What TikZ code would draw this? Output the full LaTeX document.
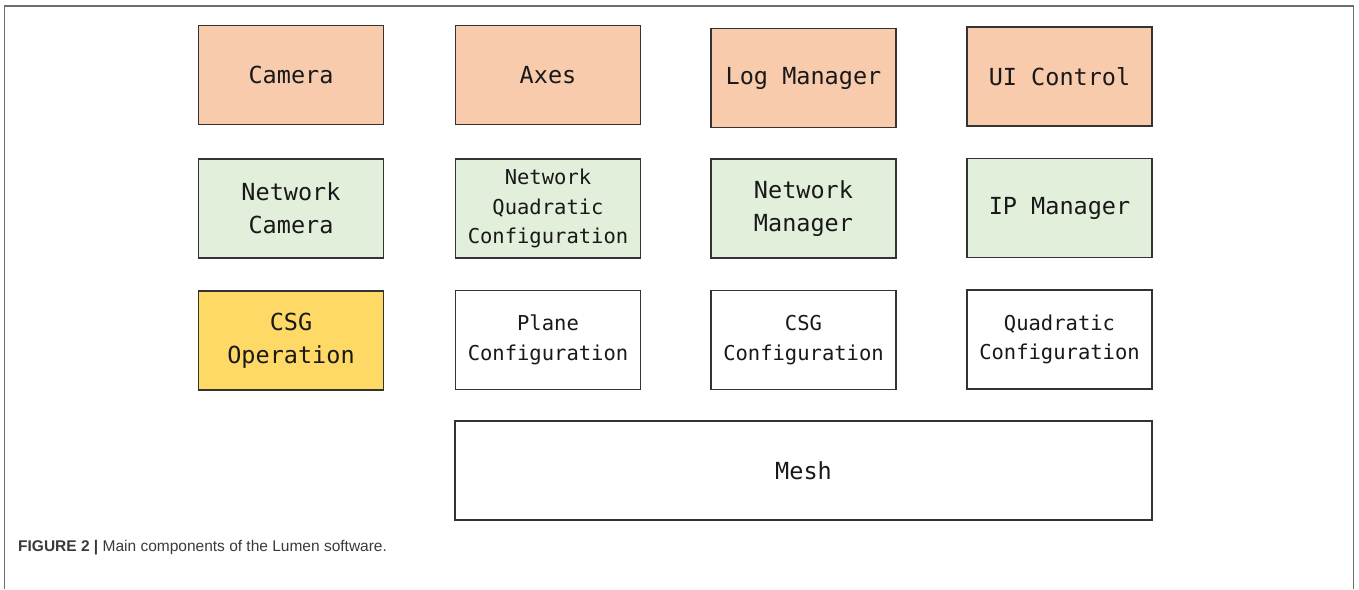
\documentclass[tikz,border=0pt]{standalone}
\usepackage{fontspec}
\setmainfont{Liberation Sans}
\setmonofont{DejaVu Sans Mono}
\definecolor{peach}{HTML}{F8CBAD}
\definecolor{mint}{HTML}{E2EFDA}
\definecolor{gold}{HTML}{FFD966}
\definecolor{framegray}{HTML}{6E6E6E}
\definecolor{captgray}{HTML}{3A3A3A}
\begin{document}
\begin{tikzpicture}[x=1pt, y=-1pt,
    comp/.style={draw=black!80, line width=1.3pt, minimum width=185pt, minimum height=99pt,
      inner sep=0pt, align=center, text=black!90, font=\ttfamily\fontsize{23.5}{33}\selectfont},
    small/.style={font=\ttfamily\fontsize{20.5}{29.5}\selectfont}]
  \useasboundingbox (0,0) rectangle (1359,589);
  % outer frame, open at the bottom
  \draw[framegray, line width=1.5pt] (4.5,589) -- (4.5,6) -- (1353.5,6) -- (1353.5,589);

  % top row
  \node[comp, fill=peach] (camera) at (291,75) {Camera};
  \node[comp, fill=peach] (axes) at (548,75) {Axes};
  \node[comp, fill=peach] (logmgr) at (803.5,78) {Log Manager};
  \node[comp, fill=peach] (uictl) at (1059.5,76.5) {UI Control};

  % network row
  \node[comp, fill=mint] (netcam) at (291,208.5) {Network\\Camera};
  \node[comp, fill=mint, small] (netquad) at (548,208.5) {Network\\Quadratic\\Configuration};
  \node[comp, fill=mint] (netmgr) at (803.5,208.5) {Network\\Manager};
  \node[comp, fill=mint] (ipmgr) at (1059.5,208) {IP Manager};

  % configuration row
  \node[comp, fill=gold] (csgop) at (291,340.5) {CSG\\Operation};
  \node[comp, fill=white, small] (planecfg) at (548,340) {Plane\\Configuration};
  \node[comp, fill=white, small] (csgcfg) at (803.5,340) {CSG\\Configuration};
  \node[comp, fill=white, small] (quadcfg) at (1059.5,339.5) {Quadratic\\Configuration};

  % base
  \node[comp, fill=white, minimum width=697pt] (mesh) at (803.5,470.5) {Mesh};

  % caption
  \node[anchor=base west, inner sep=0pt, text=captgray, font=\fontsize{15.5}{18}\selectfont] (caption) at (18,551)
    {\textbf{FIGURE 2 |} Main components of the Lumen software.};
\end{tikzpicture}
\end{document}
